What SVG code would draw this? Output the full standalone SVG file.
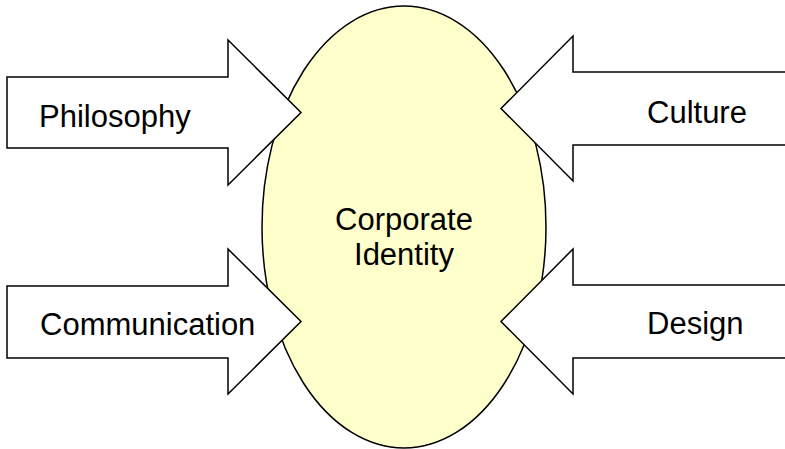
<svg xmlns="http://www.w3.org/2000/svg" width="785" height="449" viewBox="0 0 785 449">
<style>
.shape{stroke:#000;stroke-width:1.5;stroke-linejoin:miter}
.arrow{fill:#fff}
.lbl{font-family:"Liberation Sans",Arial,sans-serif;font-size:31px;fill:#000}
</style>
<rect width="785" height="449" fill="#fff"/>
<g id="identity">
<ellipse class="shape" cx="404" cy="227" rx="142" ry="221" fill="#FFFFCC"/>
<text class="lbl" x="404" y="230" text-anchor="middle">Corporate</text>
<text class="lbl" x="404" y="265" text-anchor="middle">Identity</text>
</g>
<g id="connectors">
<g id="philosophy">
<polygon class="shape arrow" points="7,77 228,77 228,40 301,112.5 228,185 228,148 7,148"/>
<text class="lbl" x="39" y="127">Philosophy</text>
</g>
<g id="culture">
<polygon class="shape arrow" points="790,72 573,72 573,36 501,108.5 573,181 573,145 790,145"/>
<text class="lbl" x="647" y="123">Culture</text>
</g>
<g id="communication">
<polygon class="shape arrow" points="7,286 228,286 228,249 301,321.5 228,394 228,358 7,358"/>
<text class="lbl" x="40" y="335">Communication</text>
</g>
<g id="design">
<polygon class="shape arrow" points="790,285 573,285 573,249 501,321.5 573,394 573,358 790,358"/>
<text class="lbl" x="647" y="334">Design</text>
</g>
</g>
</svg>
